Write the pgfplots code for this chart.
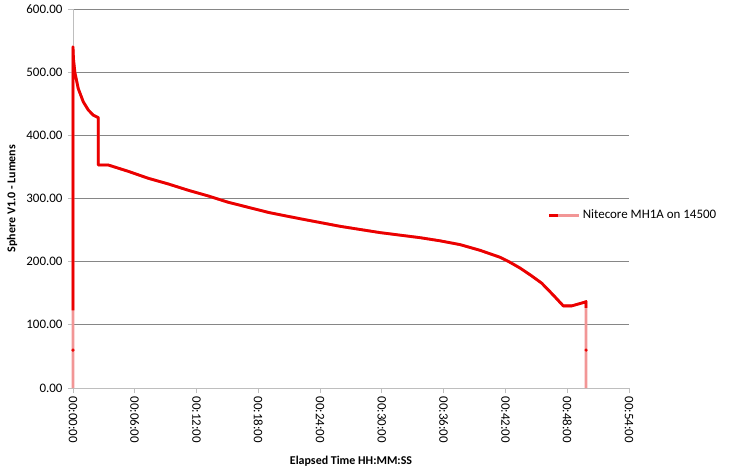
\documentclass[border=0pt]{standalone}
\usepackage{pgfplots}
\pgfplotsset{compat=1.18}
\usepackage{fontspec}
\setmainfont{Carlito}
\definecolor{lnred}{RGB}{235,0,0}
\definecolor{lnpink}{RGB}{242,150,150}
\definecolor{gridgray}{RGB}{134,134,134}
\definecolor{axgray}{RGB}{190,190,190}
\begin{document}
\begin{tikzpicture}
\useasboundingbox (-73bp,-83bp) rectangle (656bp,388bp);
\begin{axis}[
  at={(0,0)}, anchor=south west,
  scale only axis, width=556bp, height=379bp,
  xmin=0, xmax=54, ymin=0, ymax=600,
  clip=false,
  axis lines=left,
  axis line style={-, draw=axgray, line width=0.8bp},
  xtick={0,6,12,18,24,30,36,42,48,54},
  xticklabels={00:00:00,00:06:00,00:12:00,00:18:00,00:24:00,00:30:00,00:36:00,00:42:00,00:48:00,00:54:00},
  ytick={0,100,200,300,400,500,600},
  tick align=outside,
  major tick length=5bp,
  tick style={draw=axgray, line width=0.8bp},
  ymajorgrids,
  grid style={draw=gridgray, line width=0.8bp},
  xticklabel style={rotate=-90, anchor=west, font=\fontsize{13}{15}\selectfont, text=black},
  yticklabel style={font=\fontsize{13}{15}\selectfont, text=black, xshift=-2bp,
    /pgf/number format/.cd, fixed, fixed zerofill, precision=2, assume math mode=true},
  xlabel={Elapsed  Time HH:MM:SS},
  ylabel={Sphere V1.0 - Lumens},
  every axis x label/.style={at={(axis description cs:0.5,-0.1926)}, anchor=center, font=\bfseries\fontsize{12}{14}\selectfont},
  every axis y label/.style={at={(axis description cs:-0.1097,0.5)}, rotate=90, anchor=center, font=\bfseries\fontsize{12}{14}\selectfont},
  legend style={at={(axis description cs:0.854,0.456)}, anchor=west, draw=none, fill=none,
    font=\fontsize{13}{15}\selectfont, inner sep=0pt},
  legend image code/.code={
    \draw[lnpink, line width=2.8bp] (0bp,0bp) -- (30bp,0bp);
    \draw[lnred, line width=2.8bp] (0bp,0bp) -- (9bp,0bp);
  },
]
\addplot[lnpink, line width=2.8bp, line join=round] table {
0 0
0 60
0 123
0 540
0.05 520
0.19 499
0.51 474
1.0 453
1.49 440
1.97 432
2.46 428
2.46 353
3.43 353
5.37 343
7.31 332
9.26 323
11.20 313
13.14 304
15.08 294
17.03 286
18.97 278
20.5 273
22.05 268
23.99 262
25.93 256
27.87 251
29.82 246
31.76 242
33.70 238
35.65 233
37.59 227
39.53 218
41.47 207
42.44 199
43.41 190
44.5 178
45.52 166
46.65 147
47.62 130
48.44 130
49.73 136
49.83 137
49.83 60
49.83 0
};
\addlegendentry{Nitecore MH1A on 14500}
\addplot[lnred, line width=2.8bp, line join=round, forget plot] table {
0 123
0 540
0.05 520
0.19 499
0.51 474
1.0 453
1.49 440
1.97 432
2.46 428
2.46 353
3.43 353
5.37 343
7.31 332
9.26 323
11.20 313
13.14 304
15.08 294
17.03 286
18.97 278
20.5 273
22.05 268
23.99 262
25.93 256
27.87 251
29.82 246
31.76 242
33.70 238
35.65 233
37.59 227
39.53 218
41.47 207
42.44 199
43.41 190
44.5 178
45.52 166
46.65 147
47.62 130
48.44 130
49.73 136
49.83 137
49.83 127
};
\addplot[only marks, mark=*, mark size=1.4bp, lnred, forget plot] table {
0 60
49.83 60
};
\end{axis}
\end{tikzpicture}
\end{document}
